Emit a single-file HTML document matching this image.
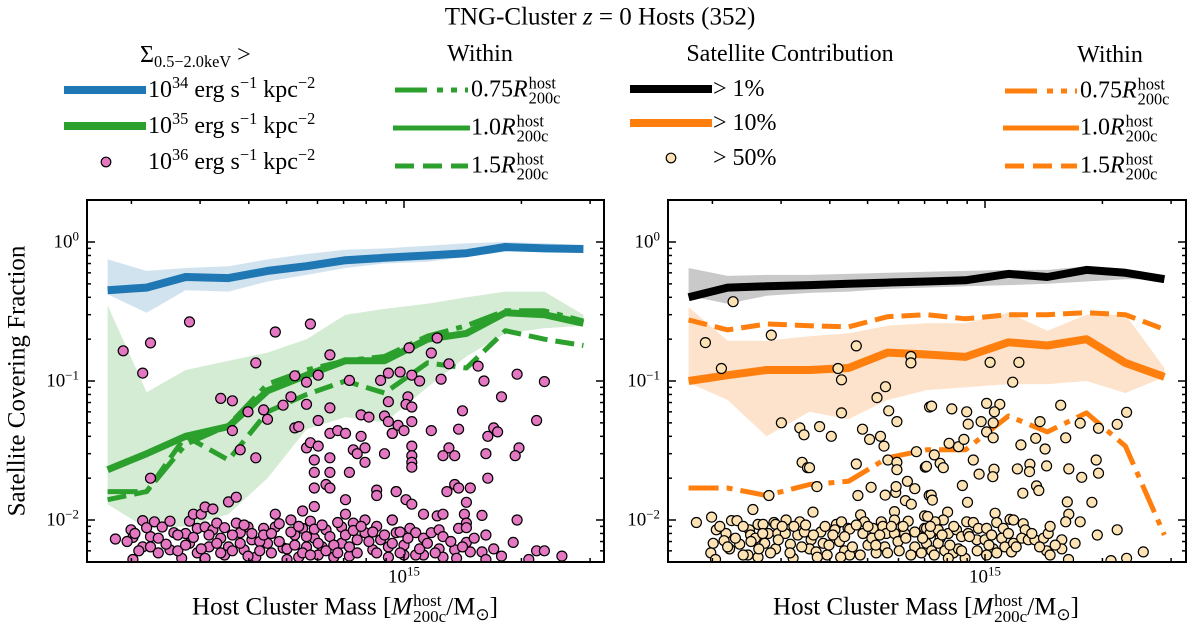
<!DOCTYPE html>
<html><head><meta charset="utf-8">
<style>
html,body{margin:0;padding:0;background:#fff;}
#wrap{position:relative;width:1200px;height:632px;overflow:hidden;font-family:"Liberation Serif",serif;color:#000;}
svg{position:absolute;left:0;top:0;}
.t{position:absolute;white-space:nowrap;line-height:1;}
.ss{display:inline-block;vertical-align:middle;line-height:0.95;font-size:0.68em;margin-left:1px;text-align:left;}
.ss span{display:block;}
sup{font-size:0.68em;vertical-align:0.55em;line-height:0;}
sub{font-size:0.68em;vertical-align:-0.3em;line-height:0;}
</style></head><body>
<div id="wrap">
<svg id="svg" width="1200" height="632" viewBox="0 0 1200 632">
  <defs>
    <clipPath id="clipL"><rect x="87" y="200" width="517" height="362"/></clipPath>
    <clipPath id="clipR"><rect x="668" y="200" width="518" height="362"/></clipPath>
  </defs>
  <g id="legendMarks">
    <line x1="64" y1="90" x2="146" y2="90" stroke="#1f77b4" stroke-width="8"/>
    <line x1="64" y1="126" x2="146" y2="126" stroke="#2ca02c" stroke-width="8"/>
    <circle cx="106" cy="162" r="4.8" fill="#e377c2" stroke="#000" stroke-width="1.2"/>
    <line x1="395" y1="90" x2="468" y2="90" stroke="#2ca02c" stroke-width="5" stroke-dasharray="32 10 6 8 6 8"/>
    <line x1="393" y1="128" x2="470" y2="128" stroke="#2ca02c" stroke-width="5"/>
    <line x1="395" y1="166" x2="468" y2="166" stroke="#2ca02c" stroke-width="5" stroke-dasharray="19 9"/>
    <line x1="630" y1="89" x2="712" y2="89" stroke="#000" stroke-width="8"/>
    <line x1="630" y1="123" x2="712" y2="123" stroke="#ff7f0e" stroke-width="8"/>
    <circle cx="671" cy="158" r="4.8" fill="#fde3b3" stroke="#000" stroke-width="1.2"/>
    <line x1="1005" y1="91" x2="1077" y2="91" stroke="#ff7f0e" stroke-width="5" stroke-dasharray="32 10 6 8 6 8"/>
    <line x1="1003" y1="128" x2="1079" y2="128" stroke="#ff7f0e" stroke-width="5"/>
    <line x1="1005" y1="166" x2="1077" y2="166" stroke="#ff7f0e" stroke-width="5" stroke-dasharray="19 9"/>
  </g>
</svg>

<div class="t" style="left:600px;top:17px;transform:translate(-50%,-50%);font-size:25px;">TNG-Cluster <i>z</i> = 0 Hosts (352)</div>

<div class="t" style="left:140px;top:55px;transform:translateY(-50%);font-size:24px;">Σ<sub>0.5−2.0keV</sub> &gt;</div>
<div class="t" style="left:148px;top:90px;transform:translateY(-50%);font-size:24px;">10<sup>34</sup> erg s<sup>−1</sup> kpc<sup>−2</sup></div>
<div class="t" style="left:148px;top:126px;transform:translateY(-50%);font-size:24px;">10<sup>35</sup> erg s<sup>−1</sup> kpc<sup>−2</sup></div>
<div class="t" style="left:148px;top:162px;transform:translateY(-50%);font-size:24px;">10<sup>36</sup> erg s<sup>−1</sup> kpc<sup>−2</sup></div>

<div class="t" style="left:480px;top:54px;transform:translate(-50%,-50%);font-size:24px;">Within</div>
<div class="t" style="left:471px;top:91px;transform:translateY(-50%);font-size:24px;">0.75<i>R</i><span class="ss"><span>host</span><span>200c</span></span></div>
<div class="t" style="left:471px;top:129px;transform:translateY(-50%);font-size:24px;">1.0<i>R</i><span class="ss"><span>host</span><span>200c</span></span></div>
<div class="t" style="left:471px;top:167px;transform:translateY(-50%);font-size:24px;">1.5<i>R</i><span class="ss"><span>host</span><span>200c</span></span></div>

<div class="t" style="left:790px;top:54px;transform:translate(-50%,-50%);font-size:24px;">Satellite Contribution</div>
<div class="t" style="left:713px;top:89px;transform:translateY(-50%);font-size:24px;">&gt; 1%</div>
<div class="t" style="left:713px;top:123px;transform:translateY(-50%);font-size:24px;">&gt; 10%</div>
<div class="t" style="left:713px;top:158px;transform:translateY(-50%);font-size:24px;">&gt; 50%</div>

<div class="t" style="left:1110px;top:55px;transform:translate(-50%,-50%);font-size:24px;">Within</div>
<div class="t" style="left:1080px;top:92px;transform:translateY(-50%);font-size:24px;">0.75<i>R</i><span class="ss"><span>host</span><span>200c</span></span></div>
<div class="t" style="left:1080px;top:129px;transform:translateY(-50%);font-size:24px;">1.0<i>R</i><span class="ss"><span>host</span><span>200c</span></span></div>
<div class="t" style="left:1080px;top:167px;transform:translateY(-50%);font-size:24px;">1.5<i>R</i><span class="ss"><span>host</span><span>200c</span></span></div>

<div class="t" style="left:17px;top:381px;transform:translate(-50%,-50%) rotate(-90deg);font-size:25px;">Satellite Covering Fraction</div>
<div class="t" style="left:345px;top:609px;transform:translate(-50%,-50%);font-size:25px;">Host Cluster Mass [<i>M</i><span class="ss"><span>host</span><span>200c</span></span>/M<sub>⊙</sub>]</div>
<div class="t" style="left:926px;top:609px;transform:translate(-50%,-50%);font-size:25px;">Host Cluster Mass [<i>M</i><span class="ss"><span>host</span><span>200c</span></span>/M<sub>⊙</sub>]</div>
<div id="ticklabels"></div>
</div>

<script>
// ---- data (log10 host mass bins) ----
const binLogM = [14.24,14.34,14.44,14.55,14.65,14.75,14.85,14.95,15.06,15.16,15.26,15.36,15.46];
// left panel
const blueMedian = [0.45,0.47,0.56,0.55,0.62,0.67,0.74,0.77,0.80,0.83,0.92,0.90,0.89];
const blueUpper  = [0.75,0.62,0.65,0.67,0.75,0.82,0.88,0.90,0.94,0.98,1.00,0.98,0.95];
const blueLower  = [0.42,0.31,0.45,0.44,0.52,0.58,0.65,0.70,0.72,0.78,0.85,0.85,0.85];
const green10    = [0.023,0.030,0.040,0.047,0.085,0.11,0.14,0.14,0.20,0.22,0.31,0.30,0.26];
const green075   = [0.016,0.016,0.035,0.048,0.095,0.12,0.14,0.15,0.21,0.25,0.32,0.32,0.27];
const green15    = [0.014,0.016,0.040,0.027,0.060,0.080,0.100,0.082,0.135,0.124,0.23,0.20,0.18];
const greenUpper = [0.35,0.083,0.12,0.14,0.16,0.20,0.30,0.33,0.36,0.40,0.44,0.44,0.30];
const greenLower = [0.013,0.0087,0.009,0.011,0.02,0.045,0.055,0.05,0.09,0.15,0.22,0.24,0.25];
// right panel
const black1      = [0.40,0.47,0.48,0.49,0.50,0.51,0.52,0.53,0.59,0.56,0.63,0.60,0.54];
const greyUpper   = [0.65,0.57,0.58,0.58,0.59,0.60,0.61,0.62,0.63,0.63,0.67,0.64,0.58];
const greyLower   = [0.41,0.36,0.41,0.43,0.44,0.46,0.47,0.48,0.49,0.50,0.52,0.54,0.54];
const orange10    = [0.10,0.11,0.12,0.12,0.124,0.16,0.155,0.149,0.19,0.18,0.20,0.135,0.107];
const orange15    = [0.275,0.233,0.257,0.25,0.245,0.29,0.30,0.28,0.30,0.30,0.31,0.30,0.235];
const orange075   = [0.017,0.017,0.015,0.018,0.019,0.028,0.032,0.032,0.056,0.043,0.059,0.034,0.0078];
const orangeUpper = [0.34,0.195,0.195,0.21,0.22,0.25,0.26,0.26,0.31,0.23,0.30,0.30,0.124];
const orangeLower = [0.097,0.073,0.04,0.06,0.053,0.073,0.086,0.09,0.095,0.095,0.10,0.082,0.107];
// scatter: [log10 M, fraction]
const pinkPoints = [
[14.28,0.165],[14.33,0.114],[14.35,0.188],[14.45,0.266],[14.67,0.225],[14.76,0.257],[14.81,0.154],[14.62,0.135],[14.53,0.075],[14.56,0.072],[14.60,0.060],[14.64,0.062],[14.65,0.053],[14.56,0.044],[14.58,0.032],[14.62,0.028],[14.35,0.020],[14.55,0.0135],[14.57,0.0146],[14.72,0.109],[14.75,0.098],[14.78,0.110],[14.71,0.077],[14.69,0.067],[14.75,0.068],[14.78,0.052],[14.72,0.046],[14.73,0.047],[14.81,0.064],[14.81,0.042],[14.83,0.044],[14.85,0.042],[14.75,0.033],[14.76,0.036],[14.78,0.034],[14.77,0.027],[14.77,0.022],[14.81,0.028],[14.81,0.022],[14.80,0.018],[14.81,0.017],[14.77,0.017],[14.77,0.0125],[14.74,0.0116],[14.86,0.101],[14.86,0.022],[14.87,0.032],[14.85,0.014],[14.89,0.040],[14.90,0.033],[14.88,0.030],[14.90,0.026],[14.89,0.057],[14.91,0.055],[14.94,0.101],[14.96,0.114],[14.96,0.071],[14.95,0.056],[14.96,0.051],[14.97,0.042],[14.95,0.030],[14.93,0.0164],[14.93,0.015],[14.98,0.016],[14.67,0.011],[14.85,0.011],
[15.013,0.173],[15.085,0.204],[15.07,0.159],[15.115,0.133],[15.19,0.128],[15.29,0.112],[15.36,0.099],[14.99,0.116],[15.02,0.110],[15.04,0.100],[15.095,0.103],[15.205,0.100],[15.25,0.077],[15.01,0.077],[15.005,0.068],[15.02,0.065],[15.15,0.061],[15.34,0.052],[15.02,0.051],[14.985,0.048],[15.0,0.044],[14.97,0.042],[15.07,0.044],[15.14,0.045],[15.23,0.046],[15.24,0.043],[15.215,0.040],[15.02,0.034],[15.02,0.029],[15.02,0.026],[15.02,0.024],[15.115,0.033],[15.1,0.029],[15.13,0.029],[15.21,0.030],[15.295,0.033],[15.285,0.029],[15.215,0.020],[14.98,0.016],[15.13,0.018],[15.11,0.016],[15.14,0.017],[15.17,0.017],[15.005,0.014],[15.02,0.013],[15.16,0.0134],[15.155,0.011],[15.05,0.011],[15.085,0.0107],[15.1,0.011],[15.2,0.0108],[15.29,0.010],[14.97,0.010],[15.16,0.0095],[15.14,0.0087],[15.16,0.0088],[15.21,0.0078],[15.28,0.0069],[15.34,0.006],[15.36,0.006],[15.405,0.0055],[15.32,0.0052],
[14.26,0.0073],[14.30,0.0085],[14.305,0.0075],[14.305,0.0052],[14.33,0.0099],[14.31,0.008],[14.33,0.0064],[14.36,0.0097],[14.35,0.0076],[14.35,0.0064],[14.38,0.0089],[14.37,0.0074],[14.40,0.0098],[14.41,0.0081],[14.40,0.0061],[14.43,0.0053],[14.45,0.0098],[14.46,0.011],[14.48,0.011],[14.47,0.0087],[14.45,0.0068],[14.47,0.0058],[14.49,0.0124],[14.51,0.012],[14.49,0.0089],[14.51,0.0085],[14.50,0.0064],[14.53,0.0074],[14.52,0.0095],[14.55,0.0064],[14.57,0.0095],[14.58,0.0081],[14.60,0.0089],[14.61,0.0072],[14.59,0.0061],[14.62,0.0054],[14.64,0.0087],[14.65,0.0068],[14.67,0.0089],[14.69,0.0063],[14.71,0.010],[14.72,0.0078],[14.73,0.0054],[14.74,0.0087],[14.75,0.0064],[14.76,0.0098],[14.77,0.0074],[14.79,0.0064],[14.80,0.0085],[14.82,0.0054],[14.84,0.0089],[14.84,0.0068],[14.87,0.0095],[14.88,0.0072],[14.90,0.010],[14.90,0.0081],[14.92,0.0061],[14.94,0.0072],[14.96,0.0054],[14.97,0.010],[14.98,0.0081],
[14.99,0.0082],[15.0,0.0066],[15.015,0.0087],[15.03,0.0081],[15.05,0.0074],[15.05,0.0056],[15.07,0.0081],[15.09,0.0085],[15.1,0.0076],[15.09,0.0062],[15.1,0.0054],[15.13,0.0061],[15.135,0.0053],[15.16,0.0069],[15.17,0.0059],[15.2,0.0059],[15.23,0.0062],[15.25,0.0055],[15.21,0.0052],[15.03,0.0056],[15.0,0.0056],[14.29,0.0070],[14.44,0.0080],[14.54,0.0056],[14.63,0.0070],[14.70,0.0052],[14.78,0.0056],[14.86,0.0055],[14.93,0.0090],
[14.32,0.0060],[14.34,0.0088],[14.37,0.0058],[14.39,0.0067],[14.42,0.0078],[14.42,0.0060],[14.44,0.0066],[14.46,0.0075],[14.48,0.0062],[14.49,0.0053],[14.50,0.0078],[14.52,0.0068],[14.53,0.0058],[14.54,0.0088],[14.56,0.0078],[14.56,0.0060],[14.58,0.0068],[14.59,0.0092],[14.60,0.0055],[14.61,0.0080],[14.63,0.0060],[14.64,0.0078],[14.66,0.0058],[14.66,0.0080],[14.68,0.0070],[14.68,0.0094],[14.70,0.0062],[14.71,0.0082],[14.72,0.0066],[14.73,0.0090],[14.74,0.0058],[14.75,0.0076],[14.76,0.0056],[14.77,0.0086],[14.78,0.0068],[14.79,0.0092],[14.80,0.0060],[14.81,0.0076],[14.82,0.0066],[14.83,0.0096],[14.83,0.0058],[14.85,0.0078],[14.86,0.0064],[14.87,0.0084],[14.88,0.0058],[14.89,0.0090],[14.91,0.0070],[14.92,0.0082],[14.93,0.0058],[14.95,0.0078],[14.96,0.0064],[14.97,0.0068],[14.99,0.0058],[15.01,0.0074],[15.04,0.0062],[15.06,0.0068],[15.08,0.0058],[15.12,0.0070],[15.15,0.0064],[15.18,0.0074]
];
const creamPoints = [
[14.354,0.372],[14.283,0.189],[14.324,0.123],[14.452,0.214],[14.67,0.179],[14.623,0.123],[14.632,0.102],[14.632,0.059],[14.745,0.091],[14.723,0.076],[14.753,0.061],[14.774,0.051],[14.81,0.150],[14.81,0.135],[14.478,0.050],[14.525,0.046],[14.536,0.041],[14.576,0.047],[14.606,0.040],[14.686,0.045],[14.704,0.038],[14.732,0.040],[14.741,0.034],[14.751,0.027],[14.774,0.026],[14.774,0.023],[14.824,0.031],[14.847,0.024],[14.531,0.026],[14.545,0.0238],[14.55,0.0238],[14.67,0.0253],[14.569,0.0174],[14.446,0.015],[14.674,0.015],[14.708,0.0172],[14.744,0.0151],[14.771,0.0158],[14.772,0.0174],[14.801,0.019],[14.82,0.0168],[14.796,0.0138],[14.811,0.013],[14.768,0.0115],[14.681,0.0109],[14.559,0.0114],[14.405,0.0119],[14.858,0.065],[14.857,0.015],
[14.260,0.0096],[14.299,0.0105],[14.311,0.0085],[14.35,0.0099],[14.364,0.0099],[14.336,0.0080],[14.303,0.0068],[14.297,0.0058],[14.309,0.0052],[14.331,0.0071],[14.345,0.0062],[14.371,0.0067],[14.396,0.0085],[14.399,0.0078],[14.418,0.0093],[14.431,0.0093],[14.411,0.0074],[14.435,0.0068],[14.444,0.0080],[14.392,0.0056],[14.418,0.0054],[14.459,0.0096],[14.463,0.0093],[14.469,0.0080],[14.463,0.0062],[14.49,0.010],[14.488,0.0080],[14.501,0.0067],[14.525,0.0097],[14.52,0.0078],[14.508,0.0053],[14.537,0.0082],[14.554,0.0072],[14.55,0.0062],[14.579,0.0082],[14.567,0.0059],[14.585,0.0068],[14.595,0.0056],[14.619,0.0093],[14.632,0.0097],[14.615,0.0085],[14.627,0.0070],[14.649,0.0087],[14.653,0.0086],[14.64,0.0060],[14.653,0.0056],[14.691,0.0097],[14.687,0.0080],[14.7,0.0066],[14.71,0.0074],[14.713,0.0087],[14.734,0.0097],[14.738,0.0090],[14.747,0.0080],[14.743,0.0064],[14.721,0.0058],[14.768,0.010],[14.768,0.0080],[14.777,0.0070],[14.794,0.0080],[14.797,0.0074],[14.803,0.0098],[14.82,0.0064],[14.837,0.0058],[14.845,0.0107],[14.845,0.0087],[14.85,0.0068],
[15.013,0.136],[15.087,0.136],[15.071,0.098],[14.863,0.066],[14.915,0.063],[14.953,0.060],[14.957,0.049],[15.004,0.069],[15.038,0.068],[15.024,0.060],[15.021,0.050],[14.99,0.051],[15.004,0.043],[15.021,0.039],[14.908,0.0356],[14.932,0.0337],[14.946,0.038],[15.194,0.067],[15.141,0.051],[15.13,0.0387],[15.154,0.0324],[15.092,0.0347],[15.207,0.039],[15.244,0.0497],[15.291,0.0457],[15.339,0.0488],[15.363,0.0595],[14.87,0.0294],[14.885,0.0256],[14.893,0.0238],[14.85,0.0243],[14.97,0.027],[15.023,0.0232],[15.02,0.0205],[14.985,0.0214],[15.083,0.0233],[15.115,0.0252],[15.114,0.0223],[15.158,0.0245],[15.215,0.0233],[15.248,0.0203],[15.285,0.027],[15.291,0.0217],[14.942,0.0177],[15.132,0.0176],[15.138,0.0163],[15.097,0.0156],[14.862,0.0151],[14.865,0.0139],[14.955,0.0134],[15.211,0.0135],[15.274,0.0134],[15.215,0.011],[15.207,0.0097],[15.244,0.0097],[15.339,0.0085],[15.288,0.0078],[15.406,0.0059],[15.363,0.0053],[15.323,0.0051],[15.231,0.0068],[15.214,0.0052],
[14.904,0.0114],[14.893,0.010],[14.872,0.0097],[14.853,0.0106],[14.85,0.0087],[14.859,0.0080],[14.88,0.0085],[14.885,0.0074],[14.906,0.0080],[14.927,0.0085],[14.94,0.0076],[14.953,0.0097],[14.97,0.0096],[14.983,0.0087],[14.957,0.0080],[14.979,0.0072],[15.004,0.0087],[15.026,0.0112],[15.03,0.0096],[15.047,0.0087],[15.064,0.0101],[15.073,0.010],[15.098,0.0094],[15.103,0.0085],[14.863,0.0060],[14.88,0.0068],[14.897,0.0060],[14.919,0.0058],[14.949,0.0053],[14.906,0.0053],[14.932,0.0062],[15.0,0.0072],[15.017,0.0078],[15.021,0.0062],[15.004,0.0056],[15.043,0.0074],[15.051,0.0064],[15.073,0.0068],[15.068,0.0059],[15.094,0.0074],[15.111,0.0072],[15.128,0.0072],[15.15,0.0074],[15.162,0.0080],[15.167,0.0090],[15.158,0.0060],[15.167,0.0056],[15.197,0.0072],[15.197,0.0062],
[14.32,0.0090],[14.34,0.0064],[14.36,0.0074],[14.38,0.0090],[14.38,0.0056],[14.40,0.0070],[14.42,0.0062],[14.43,0.0080],[14.45,0.0058],[14.47,0.0072],[14.48,0.0090],[14.50,0.0058],[14.51,0.0090],[14.53,0.0064],[14.54,0.0092],[14.56,0.0078],[14.57,0.0054],[14.59,0.0090],[14.60,0.0066],[14.61,0.0078],[14.63,0.0054],[14.64,0.0076],[14.66,0.0064],[14.67,0.0092],[14.68,0.0056],[14.70,0.0090],[14.72,0.0066],[14.73,0.0078],[14.75,0.0058],[14.76,0.0090],[14.78,0.0060],[14.79,0.0090],[14.81,0.0056],[14.82,0.0082],[14.84,0.0074],[14.86,0.0090],[14.87,0.0056],[14.89,0.0078],[14.91,0.0066],[14.92,0.0090],[14.94,0.0060],[14.96,0.0076],[14.98,0.0060],[15.01,0.0066],[15.03,0.0058],[15.06,0.0080],[15.08,0.0064],[15.12,0.0080],[15.14,0.0064],[15.18,0.0066]
];
const xMinorTicks = [2e14,3e14,4e14,5e14,6e14,7e14,8e14,9e14,2e15,3e15];
const xMajorTicks = [1e15];
const yMajorTicks = [1,0.1,0.01];
const yTickLabels = ["10<sup>0</sup>","10<sup>−1</sup>","10<sup>−2</sup>"];

// ---- scales ----
const PANEL_OFFSET = [0, 581];
const AX = {left:87, right:604, top:200, bottom:562};
function xs(lm, p){ return 404 + PANEL_OFFSET[p] + 390*(lm-15); }
function ys(f){ return 242 - 139*Math.log10(f); }
const NS = "http://www.w3.org/2000/svg";
const svg = document.getElementById('svg');
function mk(tag, attrs, parent){ const e=document.createElementNS(NS,tag); for(const k in attrs) e.setAttribute(k, attrs[k]); (parent||svg).appendChild(e); return e; }

function band(p, up, lo, fill, name, g){
  let pts = binLogM.map((m,i)=>xs(m,p).toFixed(1)+','+ys(up[i]).toFixed(1));
  for(let i=binLogM.length-1;i>=0;i--) pts.push(xs(binLogM[i],p).toFixed(1)+','+ys(lo[i]).toFixed(1));
  const e = mk('polygon',{points:pts.join(' '),fill:fill,stroke:'none'},g);
  
  
}
function line(p, vals, color, w, dash, name, g){
  const d = binLogM.map((m,i)=>(i?'L':'M')+xs(m,p).toFixed(1)+' '+ys(vals[i]).toFixed(1)).join(' ');
  const e = mk('path',{d:d,fill:'none',stroke:color,'stroke-width':w,'stroke-linejoin':'round'},g);
  if(dash) e.setAttribute('stroke-dasharray', dash);
  
  
}
function scatter(p, pts, fill, name, g){
  pts.forEach(pt=>{
    const c = mk('circle',{cx:xs(pt[0],p).toFixed(1),cy:ys(pt[1]).toFixed(1),r:5,fill:fill,stroke:'#000','stroke-width':1.2},g);
    
    
  });
}

const DASHDOT = "30 8 6 8";
const DASHED = "19 8";
// left panel
const gL = mk('g',{'clip-path':'url(#clipL)'});


band(0, blueUpper, blueLower, '#d2e3f0', 'band-blue-1e34', gL);
band(0, greenUpper, greenLower, '#d5ecd4', 'band-green-1e35', gL);
line(0, blueMedian, '#1f77b4', 8, null, 'line-blue-1e34', gL);
line(0, green15, '#2ca02c', 5, DASHED, 'line-green-15r', gL);
line(0, green075, '#2ca02c', 5, DASHDOT, 'line-green-075r', gL);
line(0, green10, '#2ca02c', 7, null, 'line-green-10r', gL);
scatter(0, pinkPoints, '#e377c2', 'point-1e36', gL);
// right panel
const gR = mk('g',{'clip-path':'url(#clipR)'});


band(1, greyUpper, greyLower, '#c9c9c9', 'band-grey-1pct', gR);
band(1, orangeUpper, orangeLower, '#fde2cc', 'band-orange-10pct', gR);
line(1, black1, '#000', 8, null, 'line-black-1pct', gR);
line(1, orange15, '#ff7f0e', 5, DASHED, 'line-orange-15r', gR);
line(1, orange075, '#ff7f0e', 5, DASHDOT, 'line-orange-075r', gR);
line(1, orange10, '#ff7f0e', 8, null, 'line-orange-10r', gR);
scatter(1, creamPoints, '#fde3b3', 'point-50pct', gR);

// axes
const tl = document.getElementById('ticklabels');
[0,1].forEach(p=>{
  const L = AX.left + PANEL_OFFSET[p], R = AX.right + PANEL_OFFSET[p] + (p?1:0);
  const ga = mk('g',{});
  
  
  const fr = mk('rect',{x:L,y:AX.top,width:R-L,height:AX.bottom-AX.top,fill:'none',stroke:'#000','stroke-width':2},ga);
  
  
  const tk = (x1,y1,x2,y2)=>mk('line',{x1:x1,y1:y1,x2:x2,y2:y2,stroke:'#000','stroke-width':1.5},ga);
  xMinorTicks.forEach(v=>{ const x=xs(Math.log10(v),p); if(x>L&&x<R){ tk(x,AX.bottom,x,AX.bottom-4); tk(x,AX.top,x,AX.top+4);} });
  xMajorTicks.forEach(v=>{ const x=xs(Math.log10(v),p); tk(x,AX.bottom,x,AX.bottom-8); tk(x,AX.top,x,AX.top+8);
    const d=document.createElement('div'); d.className='t'; d.style.cssText='left:'+x+'px;top:577px;transform:translate(-50%,-50%);font-size:19px;';
    d.innerHTML='10<sup>15</sup>';
    
    
    tl.appendChild(d);
  });
  for(let e=-3;e<=0;e++){ for(let k=2;k<=9;k++){ const y=ys(k*Math.pow(10,e)); if(y>AX.top&&y<AX.bottom){ tk(L,y,L+4,y); tk(R,y,R-4,y);} } }
  yMajorTicks.forEach((v,i)=>{ const y=ys(v); tk(L,y,L+8,y); tk(R,y,R-8,y);
    const d=document.createElement('div'); d.className='t'; d.style.cssText='right:'+(1200-L+8)+'px;top:'+y+'px;transform:translateY(-50%);font-size:19px;';
    d.innerHTML=yTickLabels[i];
    
    
    tl.appendChild(d);
  });
});
</script>
</body></html>
